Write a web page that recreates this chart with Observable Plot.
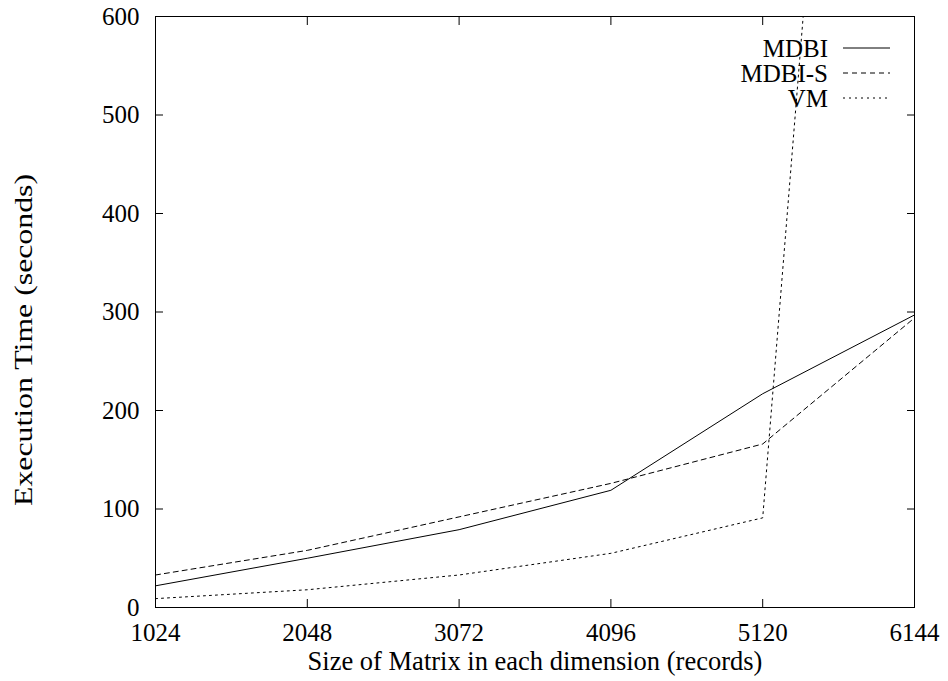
<!DOCTYPE html>
<html>
<head>
<meta charset="utf-8">
<script src="https://cdn.jsdelivr.net/npm/d3@7"></script>
<script src="https://cdn.jsdelivr.net/npm/@observablehq/plot@0.6"></script>
<style>
  html, body { margin: 0; padding: 0; background: white; }
</style>
</head>
<body>
<div id="chart"></div>
<script>
// Data
const sizes = [1024, 2048, 3072, 4096, 5120, 6144];
const mdbi = [22, 50, 79, 119, 217, 297];
const mdbiS = [33, 58, 92, 126, 166, 294];
const vm = [9, 18, 33, 55, 91, 2000];
const seriesNames = ["MDBI", "MDBI-S", "VM"];
const xTicks = [1024, 2048, 3072, 4096, 5120, 6144];
const yTicks = [0, 100, 200, 300, 400, 500, 600];
const xTitle = "Size of Matrix in each dimension (records)";
const yTitle = "Execution Time (seconds)";
const dashes = ["none", "5,4", "2,4"];

const allSeries = [mdbi, mdbiS, vm];
const rows = [];
seriesNames.forEach((name, i) => {
  sizes.forEach((s, j) => rows.push({series: name, size: s, time: allSeries[i][j]}));
});

const lineMarks = seriesNames.map((name, i) =>
  Plot.line(rows.filter(r => r.series === name), {
    x: "size", y: "time", stroke: "black", strokeWidth: 1,
    strokeDasharray: dashes[i], clip: true
  })
);

const plot = Plot.plot({
  width: 948,
  height: 681,
  marginLeft: 155,
  marginRight: 34,
  marginTop: 16,
  marginBottom: 74,
  style: {fontFamily: "'Liberation Serif', 'Times New Roman', serif", fontSize: "25px", background: "white", color: "black"},
  x: {domain: [1024, 6144]},
  y: {domain: [0, 600]},
  marks: [
    Plot.frame({stroke: "black", strokeWidth: 1}),
    // inward ticks on all four sides
    Plot.axisY(yTicks, {anchor: "left", tickSize: 8, dx: 8, text: null, label: null}),
    Plot.axisY(yTicks, {anchor: "right", tickSize: 8, dx: -8, text: null, label: null}),
    Plot.axisX(xTicks, {anchor: "bottom", tickSize: 8, dy: -8, text: null, label: null}),
    Plot.axisX(xTicks, {anchor: "top", tickSize: 8, dy: 8, text: null, label: null}),
    // tick labels
    Plot.axisY(yTicks, {anchor: "left", tickSize: 0, tickPadding: 16, tickFormat: d => String(d), label: null}),
    Plot.axisX(xTicks, {anchor: "bottom", tickSize: 0, tickPadding: 16, tickFormat: d => String(d), label: null}),
    // titles
    Plot.text([xTitle], {frameAnchor: "bottom", text: d => d, dy: 54, lineAnchor: "middle",
      textAnchor: "middle", fontSize: 26.5, className: "x-title"}),
    Plot.text([yTitle], {frameAnchor: "left", text: d => d, dx: -132, dy: 28, rotate: -90,
      lineAnchor: "middle", textAnchor: "middle", fontSize: 25, className: "y-title"}),
    ...lineMarks
  ]
});

document.getElementById("chart").appendChild(plot);

const svg = d3.select(plot);
// stretch the y title to the reference length
svg.selectAll(".y-title text").attr("textLength", 332).attr("lengthAdjust", "spacingAndGlyphs");

// Legend (top-right inside the frame)
const legendG = svg.append("g").attr("font-family", "'Liberation Serif', serif").attr("font-size", 25);
seriesNames.forEach((name, i) => {
  const cy = 48 + i * 25;
  legendG.append("text").attr("x", 828).attr("y", cy).attr("dy", "0.35em")
    .attr("text-anchor", "end").attr("fill", "black").text(name);
  legendG.append("line").attr("x1", 843).attr("x2", 890).attr("y1", cy).attr("y2", cy)
    .attr("stroke", "black").attr("stroke-width", 1)
    .attr("stroke-dasharray", dashes[i] === "none" ? null : dashes[i]);
});
</script>
</body>
</html>
